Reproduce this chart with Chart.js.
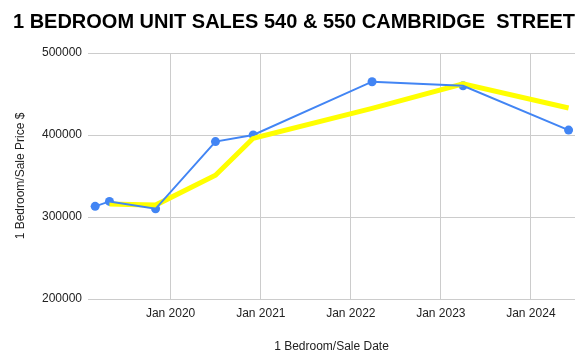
<!DOCTYPE html>
<html>
<head>
<meta charset="utf-8">
<script src="https://cdn.jsdelivr.net/npm/chart.js@4"></script>
<style>
  html, body { margin: 0; padding: 0; background: #fff; }
  #wrap { width: 584px; height: 354px; position: relative; }
</style>
</head>
<body>
<div id="wrap"><canvas id="c" width="584" height="354"></canvas></div>
<script>
const chartTitle = '1 BEDROOM UNIT SALES 540 & 550 CAMBRIDGE  STREET';
const xTitle = '1 Bedroom/Sale Date';
const yTitle = '1 Bedroom/Sale Price $';
const saleDates = ['2019-03-01', '2019-04-28', '2019-11-01', '2020-07-01', '2020-12-01', '2022-03-28', '2023-04-01', '2024-06-02'];
const prices = [313000, 319000, 310000, 392000, 400000, 465000, 460000, 406000];
const trendValues = [null, 316000, 314500, 351000, 396000, 432500, 462500, 433000];
const xTickYears = [2020, 2021, 2022, 2023, 2024];
const yTicks = [200000, 300000, 400000, 500000];
const xRange = ['2019-01-31', '2024-06-28'];

const ts = s => Date.parse(s + 'T00:00:00Z');
const pricePts = saleDates.map((d, i) => ({ x: ts(d), y: prices[i] }));
const trendPts = saleDates.map((d, i) => ({ x: ts(d), y: trendValues[i] }));
const font = { family: 'Arial, "Liberation Sans", sans-serif', size: 12 };

new Chart(document.getElementById('c'), {
  type: 'line',
  data: {
    datasets: [
      { data: pricePts, borderColor: '#4285f4', borderWidth: 2, pointRadius: 0, fill: false, tension: 0 },
      { data: trendPts, borderColor: '#ffff00', borderWidth: 5, pointRadius: 0, fill: false, tension: 0, spanGaps: false },
      { data: pricePts, showLine: false, pointRadius: 4.5, pointBackgroundColor: '#4285f4', pointBorderColor: '#4285f4', pointBorderWidth: 0 }
    ]
  },
  options: {
    responsive: false,
    animation: false,
    layout: { padding: { left: 13, right: 9, top: 0, bottom: 0 } },
    plugins: {
      legend: { display: false },
      tooltip: { enabled: false },
      title: {
        display: true, text: chartTitle, color: '#000',
        font: { family: 'Arial, "Liberation Sans", sans-serif', size: 20, weight: 'bold' },
        padding: { top: 10, bottom: 19 }
      }
    },
    scales: {
      x: {
        type: 'linear',
        min: ts(xRange[0]), max: ts(xRange[1]),
        afterBuildTicks: s => { s.ticks = xTickYears.map(y => ({ value: Date.UTC(y, 0, 1) })); },
        afterFit: s => { s.height = 55; },
        ticks: {
          autoSkip: false, maxRotation: 0, color: '#222', font, padding: 7,
          callback: v => 'Jan ' + new Date(v).getUTCFullYear()
        },
        grid: { color: '#cccccc', drawTicks: false },
        border: { display: false },
        title: { display: true, text: xTitle, color: '#222', font, padding: { top: 10, bottom: 0 } }
      },
      y: {
        min: 200000, max: 500000,
        afterBuildTicks: s => { s.ticks = yTicks.map(v => ({ value: v })); },
        afterFit: s => { s.width = 75; },
        ticks: { color: '#222', font, padding: 6, callback: v => String(v) },
        grid: { color: '#cccccc', drawTicks: false },
        border: { display: false },
        title: { display: true, text: yTitle, color: '#222', font, padding: { top: 0, bottom: 4 } }
      }
    }
  }
});
</script>
</body>
</html>
